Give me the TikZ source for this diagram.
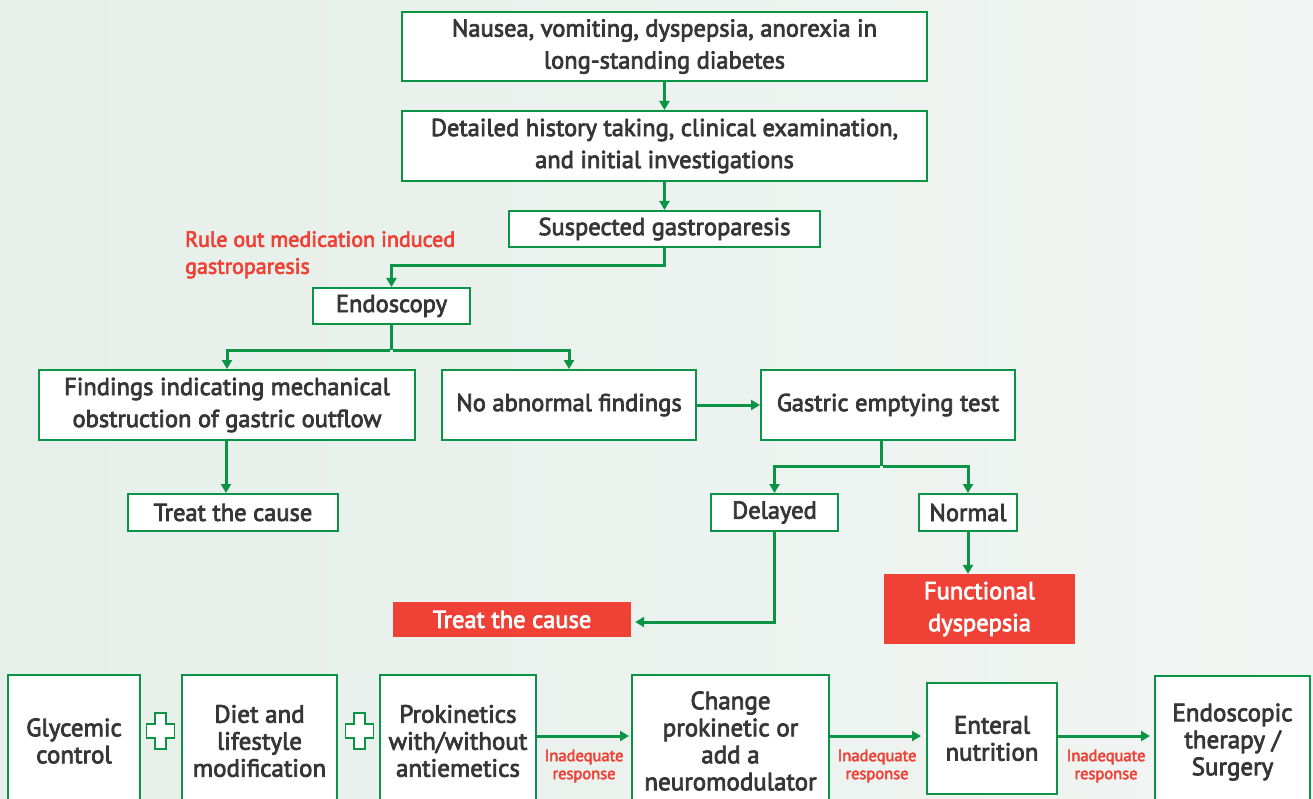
\documentclass[tikz,border=0pt]{standalone}
\usepackage{fontspec}
\setmainfont{PT Sans}[UprightFeatures={FakeBold=3}]
\usetikzlibrary{arrows.meta}
\definecolor{gr}{HTML}{0B9446}
\definecolor{rd}{HTML}{EF4136}
\definecolor{tx}{HTML}{363636}
\definecolor{bgA}{HTML}{E6EFEA}
\definecolor{bgB}{HTML}{F1F5F3}
\tikzset{
  box/.style={draw=gr, line width=2pt, fill=white, text=tx, inner sep=0pt, align=center,
    font=\fontsize{24.5}{32}\selectfont},
  redbox/.style={fill=rd, text=white, inner sep=0pt, align=center, font=\fontsize{24.5}{32}\selectfont},
  bbox/.style={draw=gr, line width=2pt, fill=white, text=tx, inner sep=0pt, align=center,
    font=\fontsize{25}{27}\selectfont},
  conn/.style={draw=gr, line width=3pt, -{Triangle[length=9pt,width=10pt]}},
  line/.style={draw=gr, line width=3pt},
  lab/.style={text=rd, align=center, font=\fontsize{16.5}{18}\selectfont},
}
\begin{document}
\begin{tikzpicture}[x=1pt,y=-1pt]
\clip (0,0) rectangle (1313,799);
\shade[left color=bgA, right color=bgB] (0,0) rectangle (1313,799);

\node[box, minimum width=525pt, minimum height=69pt] (n1) at (664.5,46.5) {Nausea, vomiting, dyspepsia, anorexia in\\long-standing diabetes};
\node[box, minimum width=525pt, minimum height=70pt] (n2) at (664.5,146) {Detailed history taking, clinical examination,\\and initial investigations};
\node[box, minimum width=311pt, minimum height=36pt] (sus) at (664.5,229) {Suspected gastroparesis};
\node[box, minimum width=157pt, minimum height=36pt] (endo) at (391.5,306) {Endoscopy};
\node[box, minimum width=376pt, minimum height=70pt] (find) at (227,405) {Findings indicating mechanical\\obstruction of gastric outflow};
\node[box, minimum width=254pt, minimum height=70pt] (noab) at (569,405) {No abnormal findings};
\node[box, minimum width=254pt, minimum height=70pt] (get) at (888,405) {Gastric emptying test};
\node[box, minimum width=210pt, minimum height=37pt] (tc1) at (233,512.5) {Treat the cause};
\node[box, minimum width=127pt, minimum height=37pt] (del) at (774.5,512.5) {Delayed};
\node[box, minimum width=98pt, minimum height=37pt] (nor) at (968,512.5) {Normal};
\node[redbox, minimum width=238pt, minimum height=35pt] (tc2) at (512,619.5) {Treat the cause};
\node[redbox, minimum width=191pt, minimum height=70pt] (fd) at (979.5,609) {Functional\\dyspepsia};

\node[text=rd, align=left, anchor=north west, inner sep=0pt, font=\fontsize{22}{27}\selectfont] (rule) at (185,231) {Rule out medication induced\\gastroparesis};

% bottom row
\node[bbox, minimum width=132pt, minimum height=132pt] (glyc) at (74,741) {Glycemic\\control};
\node[bbox, minimum width=155pt, minimum height=132pt] (diet) at (259.5,741) {Diet and\\lifestyle\\modification};
\node[bbox, minimum width=156pt, minimum height=132pt] (prok) at (458,741) {Prokinetics\\with/without\\antiemetics};
\node[bbox, minimum width=197pt, minimum height=132pt] (chg) at (730.5,741) {Change\\prokinetic or\\add a\\neuromodulator};
\node[bbox, minimum width=130pt, minimum height=111pt] (ent) at (992,738.5) {Enteral\\nutrition};
\node[bbox, minimum width=155pt, minimum height=132pt] (endt) at (1232.5,742) {Endoscopic\\therapy /\\Surgery};

% plus signs
\foreach \px in {160.5, 359.5}{
  \draw[gr, line width=1.5pt, fill=white]
    (\px-5.5,713) -- (\px+5.5,713) -- (\px+5.5,724) -- (\px+14,724) -- (\px+14,738)
    -- (\px+5.5,738) -- (\px+5.5,749) -- (\px-5.5,749) -- (\px-5.5,738) -- (\px-14,738)
    -- (\px-14,724) -- (\px-5.5,724) -- cycle;
}

% connectors
\draw[conn] (n1) -- (n2);
\draw[conn] (n2) -- (sus);
\coordinate (j1) at (0,266);
\draw[conn] (sus.south) -- (sus.south |- j1) -| (endo.north);
\coordinate (j2) at (0,350);
\draw[line] (endo.south) -- (endo.south |- j2);
\draw[conn] ([xshift=-1.5pt]endo.south |- j2) -| (find.north);
\draw[conn] ([xshift=1.5pt]endo.south |- j2) -| (noab.north);
\coordinate (fs) at (226,440);
\draw[conn] (fs) -- (fs |- tc1.north);
\draw[conn] (noab.east) -- (get.west);
\coordinate (j3) at (0,466);
\coordinate (gb) at (881,440);
\draw[line] (gb) -- (gb |- j3);
\draw[conn] ([xshift=-1.5pt]gb |- j3) -| (del.north);
\draw[conn] ([xshift=1.5pt]gb |- j3) -| (nor.north);
\coordinate (j4) at (0,622);
\draw[conn] (del.south) -- (del.south |- j4) -- ([xshift=4pt]tc2.east |- j4);
\draw[conn] (nor.south) -- (fd.north -| nor.south);

\coordinate (ay) at (0,736);
\draw[conn] (prok.east |- ay) -- ([xshift=-2pt]chg.west |- ay);
\draw[conn] (chg.east |- ay) -- ([xshift=-5pt]ent.west |- ay);
\draw[conn] (ent.east |- ay) -- ([xshift=-4pt]endt.west |- ay);
\node[lab] (l1) at (584,766) {Inadequate\\response};
\node[lab] (l2) at (877,766) {Inadequate\\response};
\node[lab] (l3) at (1106,766) {Inadequate\\response};
\end{tikzpicture}
\end{document}
